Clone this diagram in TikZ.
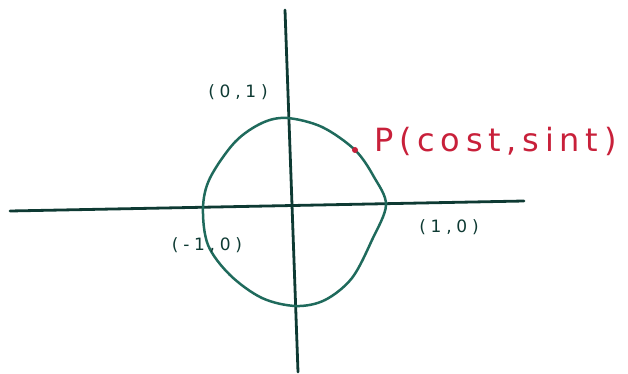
\documentclass[tikz,border=0pt]{standalone}
\usepackage{fontspec}
\setmainfont{DejaVu Sans}
\newfontfamily\spreadfont[LetterSpace=18]{DejaVu Sans}
\newfontfamily\spreadsmall[LetterSpace=28]{DejaVu Sans}
\definecolor{axiscol}{HTML}{0E3A33}
\definecolor{circcol}{HTML}{1F6A5C}
\definecolor{redcol}{HTML}{C8203A}
\tikzset{
  axis/.style={draw=axiscol, line width=2.8pt, line cap=round},
  curve/.style={draw=circcol, line width=2.5pt, line cap=round, line join=round},
  lbl/.style={text=axiscol, font=\spreadsmall\fontsize{17}{17}\selectfont, inner sep=0pt},
  plbl/.style={text=redcol, font=\spreadfont\fontsize{32}{32}\selectfont, inner sep=0pt},
  pdot/.style={circle, fill=redcol, inner sep=0pt, minimum size=6pt},
}
\begin{document}
\begin{tikzpicture}[x=1pt,y=-1pt]
\useasboundingbox (0,0) rectangle (628,374);
\coordinate (xl) at (10,211);
\coordinate (xr) at (524,201);
\coordinate (yt) at (285,10);
\coordinate (yb) at (298,372);
\draw[axis] (xl) -- (xr);
\draw[axis] (yt) -- (yb);
\draw[curve] plot[smooth cycle, tension=0.55] coordinates {
 (287,118) (322,127) (355,150) (374,177) (386,205) (372,240) (352,278) (325,300)
 (296,306) (262,298) (230,275) (208,245) (203,208) (210,178) (235,142) (262,123)};
\node[pdot] (p) at (355,150) {};
\node[plbl, anchor=west] (plab) at (374,141) {P(cost,sint)};
\node[lbl] (l01) at (238,92) {(0,1)};
\node[lbl] (l10) at (449,227) {(1,0)};
\node[lbl] (lm10) at (207,245) {(-1,0)};
\end{tikzpicture}
\end{document}
